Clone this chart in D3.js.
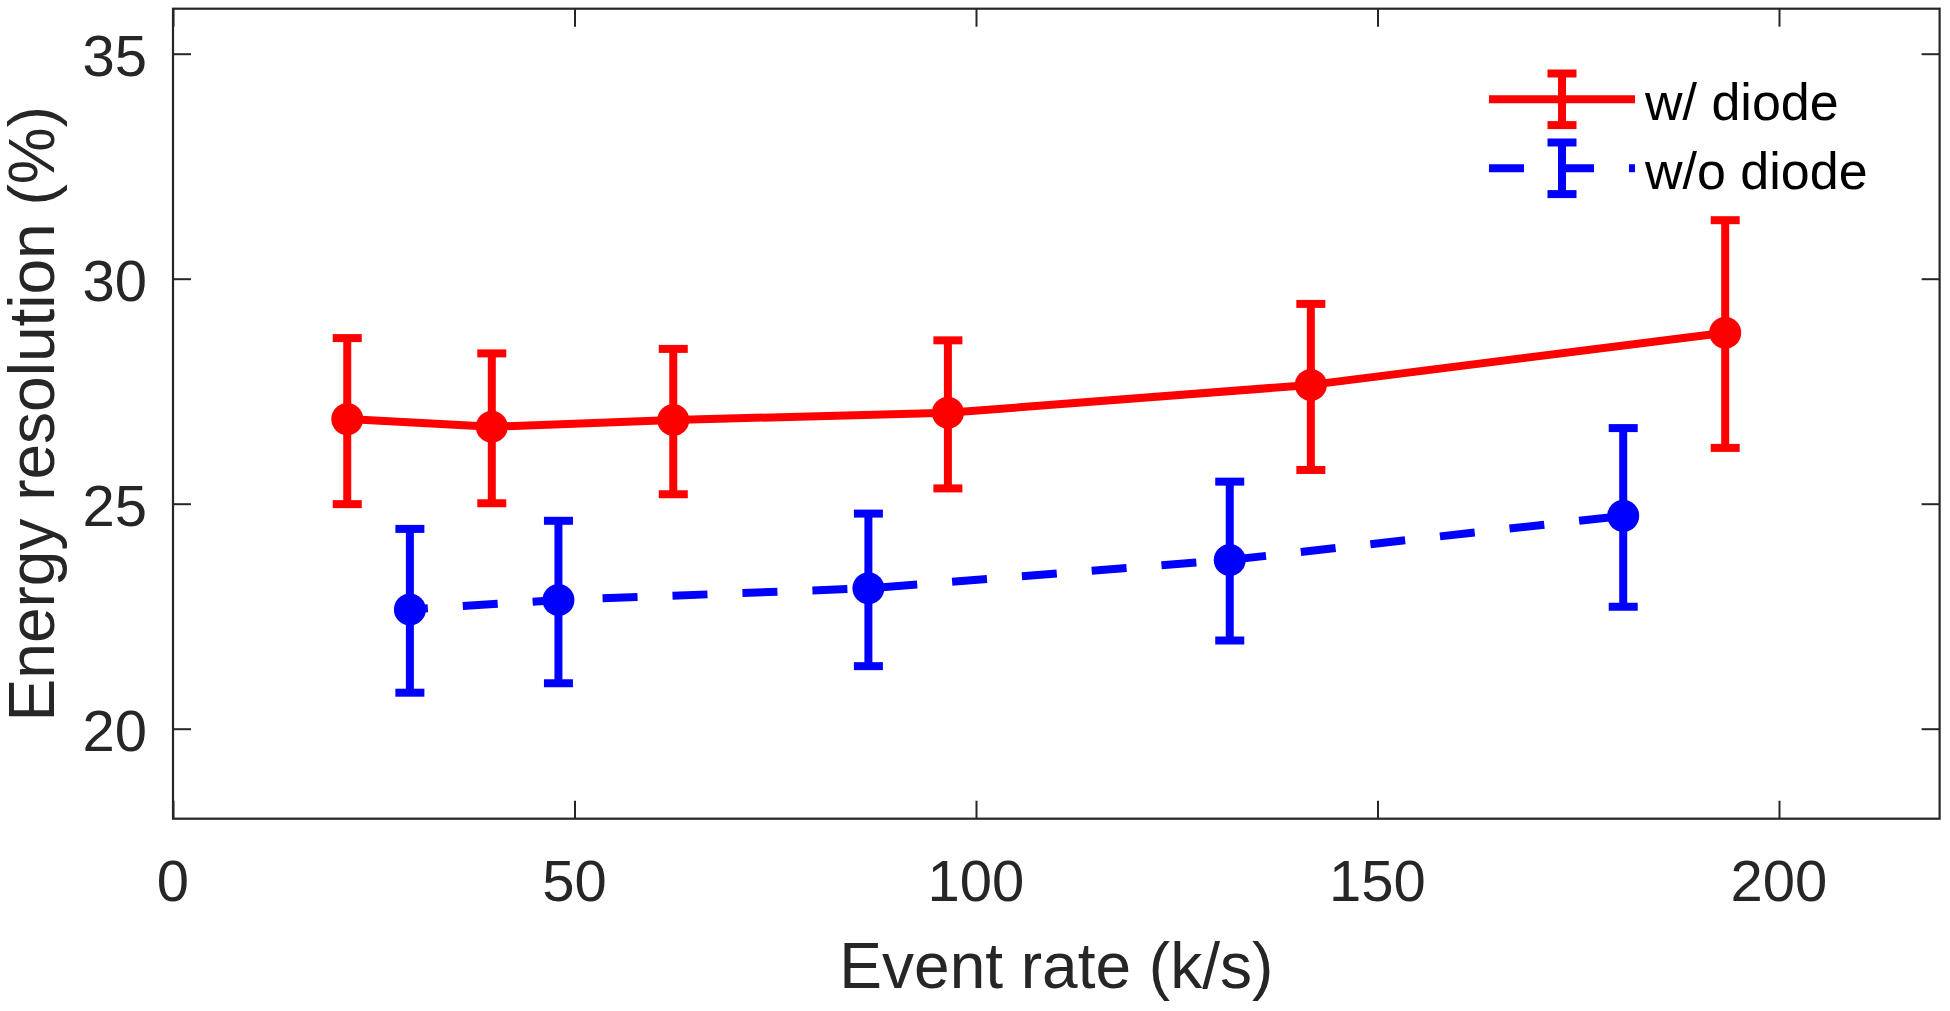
<!DOCTYPE html>
<html>
<head>
<meta charset="utf-8">
<script src="https://cdn.jsdelivr.net/npm/d3@7"></script>
<style>
  html, body { margin: 0; padding: 0; background: #fff; }
  svg { display: block; }
  text { font-family: "Liberation Sans", Arial, Helvetica, sans-serif; }
</style>
</head>
<body>
<script>
// ---- Data ----
const seriesNames = ["w/ diode", "w/o diode"];

const xWith      = [21.7, 39.7, 62.3, 96.5, 141.7, 193.3];
const yWith      = [26.88, 26.71, 26.86, 27.02, 27.64, 28.80];
const upperWith  = [28.68, 28.34, 28.44, 28.63, 29.44, 31.30];
const lowerWith  = [24.99, 25.01, 25.21, 25.34, 25.75, 26.24];

const xWithout     = [29.5, 48.0, 86.6, 131.6, 180.6];
const yWithout     = [22.65, 22.86, 23.12, 23.75, 24.73];
const upperWithout = [24.44, 24.62, 24.78, 25.49, 26.68];
const lowerWithout = [20.80, 21.01, 21.39, 21.96, 22.71];

const xTicks = [0, 50, 100, 150, 200];
const yTicks = [20, 25, 30, 35];
const xDomain = [0, 220];
const yDomain = [18, 36];

const xLabel = "Event rate (k/s)";
const yLabel = "Energy resolution (%)";

// ---- Layout ----
const W = 1950, H = 1011;
const pLeft = 173, pRight = 1939.6, pTop = 8.7, pBottom = 818.7;
const axisColor = "#262626";
const tickLen = 18;
const lw = 8;
const capHalf = 14.5;
const markerR = 16;

const svg = d3.select("body").append("svg")
  .attr("width", W).attr("height", H);

const x = d3.scaleLinear().domain(xDomain).range([pLeft, pRight]);
const y = d3.scaleLinear().domain(yDomain).range([pBottom, pTop]);

// ---- Axes (box with inward ticks on all sides) ----
const gAx = svg.append("g");
const axisStyle = g => {
  g.select(".domain").remove();
  g.selectAll(".tick line").attr("stroke", axisColor).attr("stroke-width", 2);
  g.selectAll(".tick text").remove();
};
gAx.append("g").attr("transform", `translate(0,${pBottom})`)
  .call(d3.axisBottom(x).tickValues(xTicks).tickSizeInner(-tickLen).tickSizeOuter(0)).call(axisStyle);
gAx.append("g").attr("transform", `translate(0,${pTop})`)
  .call(d3.axisTop(x).tickValues(xTicks).tickSizeInner(-tickLen).tickSizeOuter(0)).call(axisStyle);
gAx.append("g").attr("transform", `translate(${pLeft},0)`)
  .call(d3.axisLeft(y).tickValues(yTicks).tickSizeInner(-tickLen).tickSizeOuter(0)).call(axisStyle);
gAx.append("g").attr("transform", `translate(${pRight},0)`)
  .call(d3.axisRight(y).tickValues(yTicks).tickSizeInner(-tickLen).tickSizeOuter(0)).call(axisStyle);

gAx.append("rect")
  .attr("x", pLeft).attr("y", pTop)
  .attr("width", pRight - pLeft).attr("height", pBottom - pTop)
  .attr("fill", "none").attr("stroke", axisColor).attr("stroke-width", 2.2);

// tick labels
svg.append("g").selectAll("text").data(xTicks).join("text")
  .attr("x", d => x(d)).attr("y", 900.5)
  .attr("text-anchor", "middle")
  .attr("font-size", 58).attr("fill", axisColor)
  .text(d => d);
svg.append("g").selectAll("text").data(yTicks).join("text")
  .attr("x", 147).attr("y", d => y(d) + 22.5)
  .attr("text-anchor", "end")
  .attr("font-size", 58).attr("fill", axisColor)
  .text(d => d);

// axis labels
svg.append("text")
  .attr("x", (pLeft + pRight) / 2).attr("y", 988)
  .attr("text-anchor", "middle").attr("font-size", 64).attr("fill", axisColor)
  .text(xLabel);
svg.append("text")
  .attr("transform", `translate(54,${(pTop + pBottom) / 2}) rotate(-90)`)
  .attr("text-anchor", "middle").attr("font-size", 64).attr("fill", axisColor)
  .text(yLabel);

// ---- Series ----
function drawSeries(xs, ys, lo, hi, color, dash, dashOffset) {
  const pts = xs.map((d, i) => ({ x: d, y: ys[i], lo: lo[i], hi: hi[i] }));
  const g = svg.append("g");
  // error bars
  const eb = g.append("g").attr("stroke", color).attr("stroke-width", lw).attr("fill", "none");
  eb.selectAll("line.v").data(pts).join("line").attr("class", "v")
    .attr("x1", d => x(d.x)).attr("x2", d => x(d.x))
    .attr("y1", d => y(d.lo)).attr("y2", d => y(d.hi));
  eb.selectAll("line.ct").data(pts).join("line").attr("class", "ct")
    .attr("x1", d => x(d.x) - capHalf).attr("x2", d => x(d.x) + capHalf)
    .attr("y1", d => y(d.hi)).attr("y2", d => y(d.hi));
  eb.selectAll("line.cb").data(pts).join("line").attr("class", "cb")
    .attr("x1", d => x(d.x) - capHalf).attr("x2", d => x(d.x) + capHalf)
    .attr("y1", d => y(d.lo)).attr("y2", d => y(d.lo));
  // connecting line
  const line = d3.line().x(d => x(d.x)).y(d => y(d.y));
  const p = g.append("path").datum(pts).attr("d", line)
    .attr("fill", "none").attr("stroke", color).attr("stroke-width", lw)
    .attr("stroke-linejoin", "round");
  if (dash) p.attr("stroke-dasharray", dash).attr("stroke-dashoffset", dashOffset || 0);
  // markers
  g.selectAll("circle").data(pts).join("circle")
    .attr("cx", d => x(d.x)).attr("cy", d => y(d.y)).attr("r", markerR)
    .attr("fill", color);
}

drawSeries(xWith, yWith, lowerWith, upperWith, "#ff0000", null);
drawSeries(xWithout, yWithout, lowerWithout, upperWithout, "#0000ff", "35,35", 17);

// ---- Legend ----
const legend = svg.append("g");
const legendItems = [
  { name: seriesNames[0], color: "#ff0000", dash: null, y: 99.3 },
  { name: seriesNames[1], color: "#0000ff", dash: "35,35", y: 168.3 }
];
const lx1 = 1489, lx2 = 1635, lxm = 1562, ebHalf = 25.8;
legendItems.forEach(it => {
  const l = legend.append("line")
    .attr("x1", lx1).attr("x2", lx2).attr("y1", it.y).attr("y2", it.y)
    .attr("stroke", it.color).attr("stroke-width", lw);
  if (it.dash) l.attr("stroke-dasharray", it.dash);
  const e = legend.append("g").attr("stroke", it.color).attr("stroke-width", lw);
  e.append("line").attr("x1", lxm).attr("x2", lxm).attr("y1", it.y - ebHalf).attr("y2", it.y + ebHalf);
  e.append("line").attr("x1", lxm - capHalf).attr("x2", lxm + capHalf).attr("y1", it.y - ebHalf).attr("y2", it.y - ebHalf);
  e.append("line").attr("x1", lxm - capHalf).attr("x2", lxm + capHalf).attr("y1", it.y + ebHalf).attr("y2", it.y + ebHalf);
  legend.append("text")
    .attr("x", 1645).attr("y", it.y + 20.7)
    .attr("font-size", 52).attr("fill", "#000")
    .text(it.name);
});
</script>
</body>
</html>
